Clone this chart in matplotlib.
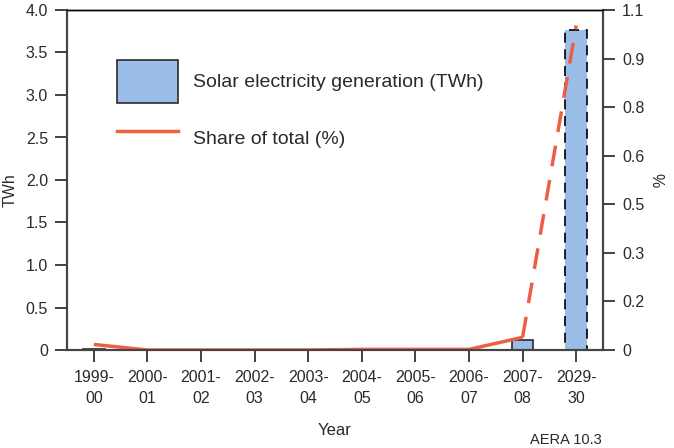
import numpy as np
import matplotlib.pyplot as plt
from matplotlib.patches import Patch
from matplotlib.lines import Line2D

plt.rcParams['font.family'] = ['Liberation Sans', 'DejaVu Sans']

# data
years = ['1999-\n00', '2000-\n01', '2001-\n02', '2002-\n03', '2003-\n04',
         '2004-\n05', '2005-\n06', '2006-\n07', '2007-\n08', '2029-\n30']
twh = [0.015, 0.0, 0.0, 0.0, 0.0, 0.0, 0.0, 0.0, 0.12, 3.77]
share = [0.018, 0.0, 0.0, 0.0, 0.0, 0.002, 0.002, 0.002, 0.041, 1.05]
left_ticks = [0, 0.5, 1.0, 1.5, 2.0, 2.5, 3.0, 3.5, 4.0]
left_labels = ['0', '0.5', '1.0', '1.5', '2.0', '2.5', '3.0', '3.5', '4.0']

bar_color = '#99bde6'
line_color = '#ee5e44'
txt = '#2a2a2a'

fig = plt.figure(figsize=(6.74, 4.48), dpi=100)
ax = fig.add_axes([67 / 674, 98 / 448, 536 / 674, 340 / 448])
x = np.arange(len(years))

bars = ax.bar(x, twh, width=0.4, color=bar_color, edgecolor='#2b2b2b', linewidth=1.2)
bars[-1].set_linestyle((0, (6, 4)))
bars[-1].set_edgecolor('black')

ax.set_xlim(-0.5, len(years) - 0.5)
ax.set_ylim(0, 4.0)
ax.set_yticks(left_ticks)
ax.set_yticklabels(left_labels)
ax.set_xticks(x)
ax.set_xticklabels(years, linespacing=1.5)
ax.tick_params(axis='both', direction='out', length=8.6, width=1.3, color='#333333',
               labelsize=11.5, labelcolor=txt, pad=5)
ax.tick_params(axis='x', pad=6)
ax.set_ylabel('TWh', fontsize=11.5, color=txt)
ax.yaxis.set_label_coords(-0.093, 0.47)
ax.set_xlabel('Year', fontsize=12, color=txt, labelpad=12)

ax2 = ax.twinx()
ax2.set_ylim(0, 1.1)
rt = np.linspace(0, 1.1, 8)
ax2.set_yticks(rt)
ax2.set_yticklabels(['0'] + ['%.1f' % v for v in rt[1:]])
ax2.tick_params(axis='y', direction='out', length=8.6, width=1.3, color='#333333',
                labelsize=11.5, labelcolor=txt, pad=5)
ax2.set_ylabel('%', fontsize=11.5, color=txt, rotation=270, labelpad=14)

ax2.plot(x[:9], share[:9], color=line_color, lw=2.5, solid_capstyle='butt')
ax2.plot(x[8:], share[8:], color=line_color, lw=2.5, dashes=(6, 4))

for a in (ax, ax2):
    for s in ('left', 'right', 'bottom'):
        a.spines[s].set_linewidth(1.5)
        a.spines[s].set_color('#444444')
    a.spines['top'].set_linewidth(1.0)
    a.spines['top'].set_color('black')

handles = [Patch(facecolor=bar_color, edgecolor='#2b2b2b', linewidth=1.2),
           Line2D([], [], color=line_color, lw=2.5)]
leg = ax.legend(handles, ['Solar electricity generation (TWh)', 'Share of total (%)'],
                loc='upper left', bbox_to_anchor=(0.093, 0.853), frameon=False,
                borderpad=0, borderaxespad=0, fontsize=14, handlelength=3.14,
                handleheight=3.0, labelspacing=0.75, handletextpad=0.77)
for t in leg.get_texts():
    t.set_color(txt)

fig.text(566 / 674, 1 - 440 / 448, 'AERA 10.3', fontsize=10.5, color=txt,
         ha='center', va='center')

fig.savefig('out.png', dpi=100)
